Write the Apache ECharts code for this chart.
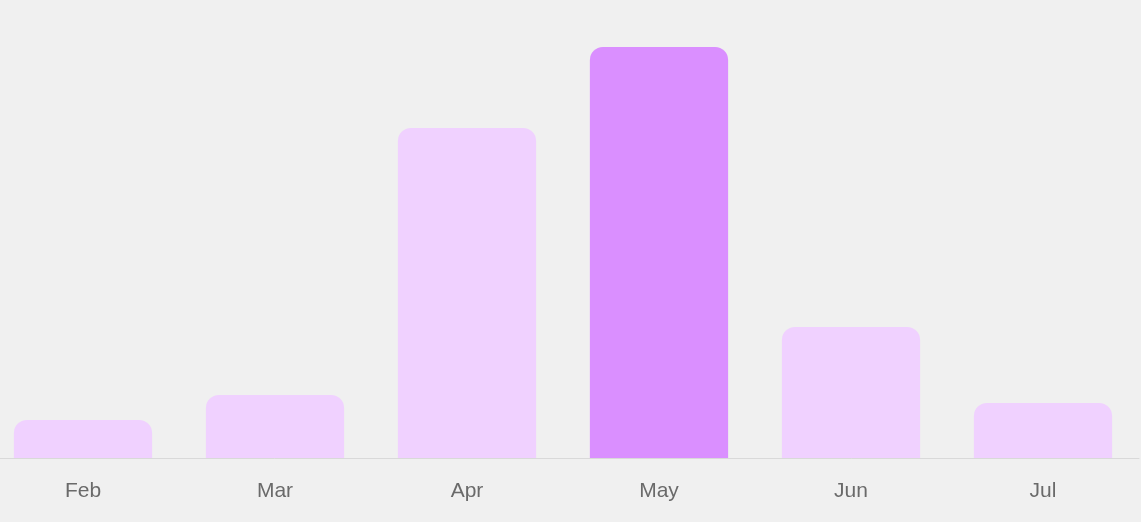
<!DOCTYPE html>
<html>
<head>
<meta charset="utf-8">
<script src="https://cdn.jsdelivr.net/npm/echarts@6/dist/echarts.min.js"></script>
<style>
html,body{margin:0;padding:0;background:#f0f0f0;overflow:hidden;}
#c{width:1154px;height:522px;margin-left:-13px;}
</style>
</head>
<body>
<div id="c"></div>
<script>
var categories = ['Feb', 'Mar', 'Apr', 'May', 'Jun', 'Jul'];
var values = [38, 63, 330, 411, 131, 55];
var highlightIndex = 3;

var chart = echarts.init(document.getElementById('c'), null, {renderer: 'canvas'});
chart.setOption({
  backgroundColor: '#f0f0f0',
  animation: false,
  grid: {left: 0, right: 2, top: 8, bottom: 64},
  xAxis: {
    type: 'category',
    data: categories,
    axisLine: {lineStyle: {color: '#d9d9d9', width: 1}},
    axisTick: {show: false},
    axisLabel: {color: '#6a6a6a', fontSize: 21, margin: 23, fontFamily: 'Liberation Sans, Arial, sans-serif'}
  },
  yAxis: {
    type: 'value', min: 0, max: 450, show: false,
    splitLine: {show: false}
  },
  series: [{
    type: 'bar',
    barWidth: '72%',
    data: values.map(function (v, i) {
      return {
        value: v,
        itemStyle: {color: i === highlightIndex ? '#da8fff' : '#f0d1ff'}
      };
    }),
    itemStyle: {borderRadius: [13, 13, 0, 0]}
  }]
});
</script>
</body>
</html>
